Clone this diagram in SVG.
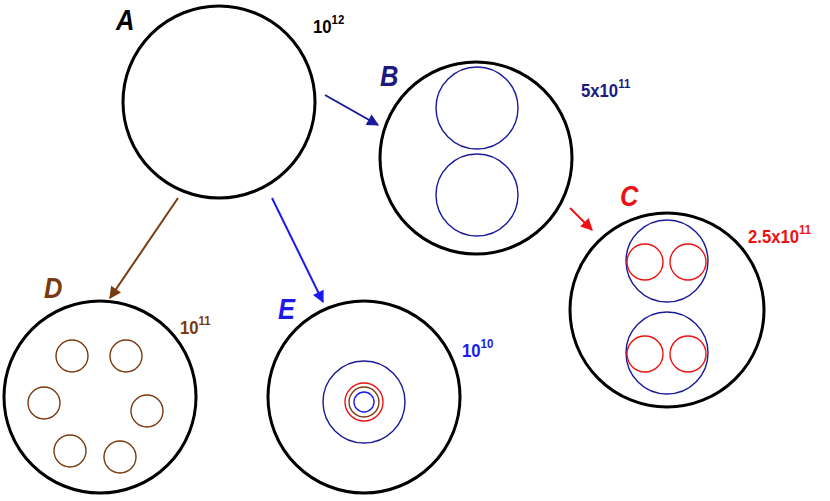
<svg xmlns="http://www.w3.org/2000/svg" width="830" height="501" viewBox="0 0 830 501">
<style>
.big{fill:none;stroke:#000;stroke-width:3}
.nv{fill:none;stroke:#1a1a99;stroke-width:1.4}
.rd{fill:none;stroke:#ee1111;stroke-width:1.4}
.br{fill:none;stroke:#7a3a10;stroke-width:1.4}
.bl{fill:none;stroke:#1a1aee;stroke-width:1.4}
.lab{font-family:"Liberation Sans",Arial,sans-serif;font-weight:bold;font-style:italic;font-size:30px}
.num{font-family:"Liberation Sans",Arial,sans-serif;font-weight:bold;font-size:19px}
.sup{font-size:13px}
</style>
<defs>
<marker id="m" viewBox="0 0 10 10" refX="9" refY="5" markerWidth="14" markerHeight="12" orient="auto" markerUnits="userSpaceOnUse"><path d="M0,0L10,5L0,10z" fill="context-stroke"/></marker>
</defs>
<g id="connectors">
<line x1="325" y1="95" x2="378" y2="125" stroke="#1a1a99" stroke-width="2" marker-end="url(#m)"/>
<line x1="570" y1="208" x2="592" y2="230" stroke="#ee1111" stroke-width="2" marker-end="url(#m)"/>
<line x1="178" y1="198" x2="110" y2="298" stroke="#7a3a10" stroke-width="2" marker-end="url(#m)"/>
<line x1="272" y1="198" x2="323" y2="302" stroke="#1a1aee" stroke-width="2" marker-end="url(#m)"/>
</g>
<g id="A">
<circle class="big" cx="219" cy="102" r="96"/>
<text class="lab" transform="translate(116,30) scale(0.85,1)" fill="#000">A</text>
<text class="num" transform="translate(313,33) scale(0.88,1)" fill="#000">10<tspan class="sup" dy="-9">12</tspan></text>
</g>
<g id="B">
<circle class="big" cx="476" cy="158" r="96"/>
<circle class="nv" cx="477" cy="108" r="41"/>
<circle class="nv" cx="477" cy="195" r="41"/>
<text class="lab" transform="translate(380,86) scale(0.85,1)" fill="#1a1a80">B</text>
<text class="num" transform="translate(581,97) scale(0.88,1)" fill="#1a1a80">5x10<tspan class="sup" dy="-9">11</tspan></text>
</g>
<g id="C">
<circle class="big" cx="667" cy="310" r="97"/>
<circle class="nv" cx="667" cy="261" r="41"/>
<circle class="nv" cx="667" cy="353" r="41"/>
<circle class="rd" cx="645" cy="262" r="18"/>
<circle class="rd" cx="688" cy="262" r="18"/>
<circle class="rd" cx="645" cy="354" r="18"/>
<circle class="rd" cx="688" cy="354" r="18"/>
<text class="lab" transform="translate(620,206) scale(0.85,1)" fill="#ee1111">C</text>
<text class="num" transform="translate(748,243) scale(0.88,1)" fill="#ee1111">2.5x10<tspan class="sup" dy="-9">11</tspan></text>
</g>
<g id="D">
<circle class="big" cx="100" cy="397" r="96"/>
<circle class="br" cx="72" cy="356" r="16"/>
<circle class="br" cx="126" cy="356" r="16"/>
<circle class="br" cx="44" cy="403" r="16"/>
<circle class="br" cx="147" cy="411" r="16"/>
<circle class="br" cx="70" cy="451" r="16"/>
<circle class="br" cx="120" cy="457" r="16"/>
<text class="lab" transform="translate(44,298) scale(0.85,1)" fill="#7a3a10">D</text>
<text class="num" transform="translate(180,334) scale(0.88,1)" fill="#7a3a10">10<tspan class="sup" dy="-9">11</tspan></text>
</g>
<g id="E">
<circle class="big" cx="364" cy="397" r="96"/>
<circle class="nv" cx="364" cy="402" r="41"/>
<circle class="rd" cx="364" cy="402" r="19"/>
<circle class="br" cx="364" cy="402" r="15"/>
<circle class="bl" cx="364" cy="402" r="10"/>
<text class="lab" transform="translate(278,319) scale(0.85,1)" fill="#1a1aee">E</text>
<text class="num" transform="translate(462,357) scale(0.88,1)" fill="#1a1aee">10<tspan class="sup" dy="-9">10</tspan></text>
</g>
</svg>
